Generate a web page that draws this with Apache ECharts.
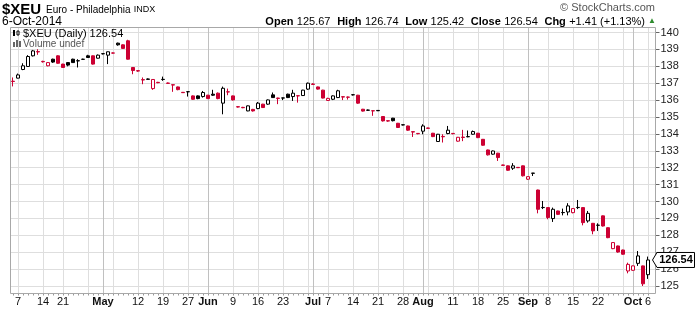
<!DOCTYPE html>
<html><head><meta charset="utf-8">
<script src="https://cdn.jsdelivr.net/npm/echarts@6/dist/echarts.min.js"></script>
<style>html,body{margin:0;padding:0;background:#fff}#c{width:696px;height:309px}</style>
</head><body><div id="c"></div>
<script>
// ---- data (2014 trading days, MM-DD) ----
const dates = ['04-04','04-07','04-08','04-09','04-10','04-11','04-14','04-15','04-16','04-17','04-21','04-22','04-23','04-24','04-25','04-28','04-29','04-30',
'05-01','05-02','05-05','05-06','05-07','05-08','05-09','05-12','05-13','05-14','05-15','05-16','05-19','05-20','05-21','05-22','05-23','05-27','05-28','05-29','05-30',
'06-02','06-03','06-04','06-05','06-06','06-09','06-10','06-11','06-12','06-13','06-16','06-17','06-18','06-19','06-20','06-23','06-24','06-25','06-26','06-27','06-30',
'07-01','07-02','07-03','07-07','07-08','07-09','07-10','07-11','07-14','07-15','07-16','07-17','07-18','07-21','07-22','07-23','07-24','07-25','07-28','07-29','07-30','07-31',
'08-01','08-04','08-05','08-06','08-07','08-08','08-11','08-12','08-13','08-14','08-15','08-18','08-19','08-20','08-21','08-22','08-25','08-26','08-27','08-28','08-29',
'09-02','09-03','09-04','09-05','09-08','09-09','09-10','09-11','09-12','09-15','09-16','09-17','09-18','09-19','09-22','09-23','09-24','09-25','09-26','09-29','09-30',
'10-01','10-02','10-03','10-06'];
const opens = [137.12,137.30,137.81,137.99,138.62,138.87,138.29,138.03,138.42,138.62,138.13,138.22,138.42,138.33,138.41,138.62,138.62,138.48,
138.75,138.66,138.79,139.37,139.27,139.51,137.93,137.74,137.21,137.25,136.68,137.05,137.23,137.01,136.91,136.78,136.46,136.50,136.25,136.25,136.21,
136.29,136.35,136.41,135.82,136.49,136.25,135.61,135.57,135.36,135.45,135.50,135.76,135.76,136.31,136.12,136.13,136.35,136.21,136.26,136.27,136.65,
136.95,136.78,136.59,135.98,136.05,136.15,136.20,136.18,136.32,136.29,135.46,135.41,135.37,135.39,135.03,134.78,134.93,134.63,134.54,134.47,134.13,134.03,
134.16,134.35,134.04,133.55,133.85,134.02,134.03,133.57,133.81,133.84,133.98,134.04,133.68,133.05,132.80,132.86,132.16,132.11,131.97,132.02,132.11,
131.32,131.68,130.68,129.65,129.64,128.99,129.44,129.35,129.38,129.34,129.65,129.64,128.85,128.71,128.60,129.15,128.45,127.21,127.37,127.13,125.89,
125.93,126.34,126.19,125.67];
const highs = [137.34,137.57,138.18,138.66,138.97,139.01,138.33,138.25,138.45,138.65,138.15,138.25,138.45,138.42,138.45,138.68,138.64,138.70,
138.78,138.87,138.82,139.40,139.30,139.57,137.95,137.78,137.34,137.28,137.24,137.08,137.39,137.04,136.93,136.80,136.48,136.53,136.28,136.28,136.54,
136.31,136.61,136.45,136.80,136.68,136.27,135.64,135.60,135.68,135.48,135.89,135.78,136.04,136.45,136.14,136.15,136.38,136.61,136.28,136.61,137.04,
137.00,136.80,136.61,136.14,136.28,136.61,136.22,136.21,136.36,136.31,135.48,135.44,135.39,135.41,135.05,134.80,134.95,134.65,134.56,134.49,134.15,134.05,
134.57,134.37,134.06,134.00,133.98,134.47,134.05,133.82,134.24,134.20,134.20,134.06,133.70,133.07,133.02,132.88,132.18,132.13,132.27,132.04,132.13,
131.49,131.69,130.70,130.03,129.66,129.64,129.46,129.58,129.90,129.60,130.09,129.66,129.44,128.73,128.71,129.17,128.47,127.59,127.39,127.15,126.38,
126.21,127.07,126.21,126.74];
const lows = [136.81,137.28,137.77,137.97,138.58,138.68,138.22,138.00,138.20,138.15,137.90,138.00,138.20,137.93,138.38,138.50,138.10,138.46,
138.70,138.13,138.75,139.22,139.03,138.40,137.53,137.68,136.94,137.20,136.61,137.00,137.14,136.96,136.49,136.58,136.42,136.21,136.02,136.05,136.15,
136.06,136.25,136.05,135.16,136.29,135.98,135.56,135.52,135.34,135.32,135.46,135.53,135.72,136.13,135.76,136.00,136.12,135.95,135.85,136.24,136.60,
136.90,136.62,136.10,135.95,136.00,136.12,136.00,136.03,136.27,135.78,135.32,135.36,135.07,135.35,134.73,134.72,134.74,134.35,134.50,134.18,133.82,133.98,
133.98,134.31,133.81,133.52,133.49,133.98,133.98,133.54,133.57,133.80,133.95,133.75,133.30,132.72,132.77,132.40,132.10,131.82,131.87,131.98,131.48,
131.28,131.51,129.30,129.55,128.95,128.79,129.20,129.18,129.18,129.30,129.55,128.59,128.75,128.06,128.26,128.52,127.83,127.18,126.97,126.85,125.75,
125.90,126.19,125.00,125.42];
const closes = [137.10,137.49,138.03,138.58,138.91,138.85,138.27,138.22,138.25,138.18,137.93,138.07,138.22,138.32,138.42,138.52,138.13,138.66,
138.74,138.86,138.78,139.27,139.06,138.42,137.75,137.72,137.19,137.23,137.22,137.03,137.22,136.99,136.89,136.62,136.44,136.49,136.05,136.09,136.45,
136.09,136.29,136.09,136.70,136.48,136.01,135.59,135.55,135.66,135.36,135.82,135.56,136.01,136.15,136.10,136.12,136.15,136.41,136.25,136.59,137.00,
136.93,136.65,136.12,136.10,136.25,136.55,136.18,136.17,136.31,135.82,135.35,135.40,135.36,135.37,134.77,134.76,134.78,134.38,134.53,134.22,134.11,134.01,
134.47,134.33,133.84,133.98,133.83,134.22,134.01,133.80,133.79,133.83,134.14,133.78,133.33,132.76,132.99,132.60,132.14,131.85,132.11,132.00,131.52,
131.47,131.67,129.54,129.64,129.05,129.54,129.24,129.34,129.74,129.58,129.64,128.75,129.30,128.26,128.59,128.55,127.86,127.57,127.01,126.88,126.28,
126.19,126.78,125.13,126.54];
const prevClose0 = 137.45;
// x-axis labels and grid markers
const weekStarts = ['04-07','04-14','04-21','04-28','05-05','05-12','05-19','05-27','06-02','06-09','06-16','06-23','06-30','07-07','07-14','07-21','07-28',
'08-04','08-11','08-18','08-25','09-02','09-08','09-15','09-22','09-29','10-06'];
const monthStarts = ['05-01','06-02','07-01','08-01','09-02','10-01'];
const tickDates = ['04-07','04-14','04-21','05-01','05-12','05-19','05-27','06-02','06-09','06-16','06-23','07-01','07-07','07-14','07-21','07-28',
'08-01','08-11','08-18','08-25','09-02','09-08','09-15','09-22','10-01','10-06'];
const tickTexts = ['7','14','21','May','12','19','27','Jun','9','16','23','Jul','7','14','21','28','Aug','11','18','25','Sep','8','15','22','Oct','6'];
const yTicks = [125,126,127,128,129,130,131,132,133,134,135,136,137,138,139,140];

const RED = '#cc0033', BLK = '#000000';
const chart = echarts.init(document.getElementById('c'));
const weekSet = new Set(weekStarts), monthSet = new Set(monthStarts);
const tickMap = {}; tickDates.forEach((d,k)=>tickMap[d]=tickTexts[k]);
const candleData = dates.map((d,i)=>{
  const pc = i===0 ? prevClose0 : closes[i-1];
  const col = closes[i] >= pc ? BLK : RED;
  const fill = closes[i] > opens[i] ? '#ffffff' : col;
  return {value:[opens[i],closes[i],lows[i],highs[i]],
    itemStyle:{color:fill,color0:fill,borderColor:col,borderColor0:col,borderWidth:1}};
});
const catsPad = dates.concat(['pad']);
const last = closes.length-1;

const F = 'Arial, "Liberation Sans", sans-serif';
chart.setOption({
  animation:false,
  grid:[
    {left:13,width:635,top:27.5,height:266},
    {left:10.5,width:645,top:32.5,height:253.5}
  ],
  xAxis:[
    {gridIndex:0,type:'category',data:dates,boundaryGap:false,
      axisLine:{show:false},
      axisTick:{show:true,interval:0,length:2,lineStyle:{color:'#999'}},
      splitLine:{show:true,interval:(i,v)=>weekSet.has(v),lineStyle:{color:'#dedede',width:1}},
      axisLabel:{interval:(i,v)=>tickMap[v]!==undefined,margin:3,fontFamily:F,fontSize:11,color:'#111',
        formatter:(v)=>{const t=tickMap[v]; if(t===undefined) return ''; return /^[A-Z]/.test(t)?'{m|'+t+'}':t;},
        rich:{m:{fontWeight:'bold',fontSize:11,fontFamily:F,color:'#111'}}}},
    {gridIndex:1,type:'category',data:catsPad,boundaryGap:true,show:false},
    {gridIndex:0,type:'category',data:dates,boundaryGap:false,
      axisLine:{show:false},axisTick:{show:false},axisLabel:{show:false},
      splitLine:{show:true,interval:(i,v)=>monthSet.has(v),lineStyle:{color:'#c0c0c0',width:1}}}
  ],
  yAxis:[
    {gridIndex:0,type:'value',show:false,min:0,max:1,splitLine:{show:false}},
    {gridIndex:1,type:'value',position:'right',min:yTicks[0],max:yTicks[yTicks.length-1],interval:1,
      axisLine:{show:false},
      axisTick:{show:true,length:4,lineStyle:{color:'#666'}},
      axisLabel:{margin:5,fontFamily:F,fontSize:11,color:'#222'},
      splitLine:{show:true,lineStyle:{color:'#dedede',width:1}}}
  ],
  series:[{type:'candlestick',xAxisIndex:1,yAxisIndex:1,data:candleData,barWidth:4}]
});

const yLast = chart.convertToPixel({yAxisIndex:1},closes[last]);
const lastTxt = closes[last].toFixed(2);
const chg = closes[last]-closes[last-1];
const pct = chg/closes[last-1]*100;
const fmt = v=>v.toFixed(2);
chart.setOption({graphic:[
  {type:'rect',shape:{x:10.5,y:27.5,width:645,height:266},style:{fill:'none',stroke:'#a8a8a8',lineWidth:1},z:50,silent:true},
  {type:'text',style:{x:2,y:10,text:'$XEU',font:'bold 15px '+F,fill:'#000',textVerticalAlign:'middle'}},
  {type:'text',style:{x:46,y:10,text:'{a|Euro - Philadelphia} {s|INDX}',textVerticalAlign:'middle',
    rich:{a:{font:'10px '+F,fill:'#000'},s:{font:'9px '+F,fill:'#000'}}}},
  {type:'text',style:{x:2,y:21.5,text:'6-Oct-2014',font:'12px '+F,fill:'#000',textVerticalAlign:'middle'}},
  {type:'text',style:{x:655,y:7.5,text:'\u00a9 StockCharts.com',font:'11px '+F,fill:'#555',textAlign:'right',textVerticalAlign:'middle'}},
  {type:'text',style:{x:645,y:21.5,textAlign:'right',textVerticalAlign:'middle',
    text:'{b|Open} {v|'+fmt(opens[last])+'}  {b|High} {v|'+fmt(highs[last])+'}  {b|Low} {v|'+fmt(lows[last])+'}  {b|Close} {v|'+fmt(closes[last])+'}  {b|Chg} {v|+'+fmt(chg)+' (+'+fmt(pct)+'%)}',
    rich:{b:{font:'bold 11px '+F,fill:'#000'},v:{font:'11px '+F,fill:'#000'}}}},
  {type:'text',style:{x:648,y:21,text:'\u25B2',font:'8px '+F,fill:'#2e8b2e',textVerticalAlign:'middle'}},
  {type:'text',style:{x:23,y:33.5,text:'$XEU (Daily) '+lastTxt,font:'11px '+F,fill:'#000',textVerticalAlign:'middle'},z:60},
  {type:'text',style:{x:23,y:44.5,text:'Volume undef',font:'10px '+F,fill:'#555',textVerticalAlign:'middle'},z:60},
  // legend icons
  {type:'rect',shape:{x:13,y:30,width:2,height:6},style:{fill:'#000'},z:60},
  {type:'rect',shape:{x:17,y:31,width:2,height:4},style:{fill:'#fff',stroke:'#000',lineWidth:1},z:60},
  {type:'rect',shape:{x:13,y:42,width:2,height:5},style:{fill:'#666'},z:60},
  {type:'rect',shape:{x:16,y:40,width:2,height:7},style:{fill:'#666'},z:60},
  {type:'rect',shape:{x:19,y:41,width:2,height:6},style:{fill:'#666'},z:60},
  // last price tag
  {type:'polygon',shape:{points:[[652.5,yLast],[657,yLast-7.5],[694.5,yLast-7.5],[694.5,yLast+7.5],[657,yLast+7.5]]},
    style:{fill:'#fff',stroke:'#000',lineWidth:1},z:70},
  {type:'text',style:{x:676,y:yLast,text:lastTxt,font:'bold 11px '+F,fill:'#000',textAlign:'center',textVerticalAlign:'middle'},z:71}
]});
</script></body></html>
